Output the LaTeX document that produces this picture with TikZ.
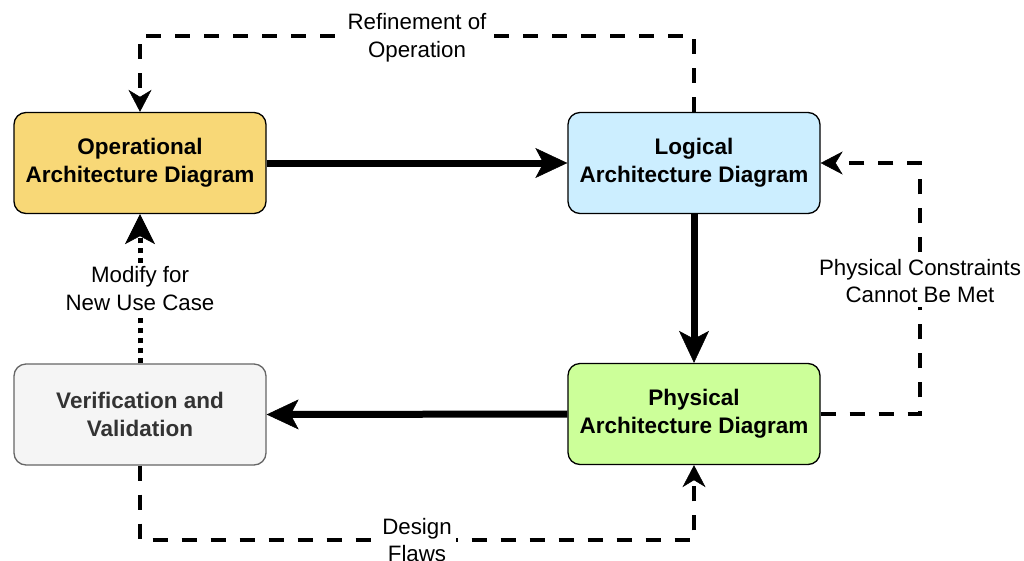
\documentclass[tikz,border=0pt]{standalone}
\usepackage{fontspec}
\setmainfont{Liberation Sans}
\usetikzlibrary{arrows.meta,positioning}

\definecolor{opfill}{HTML}{F8D877}
\definecolor{logfill}{HTML}{CCEEFF}
\definecolor{physfill}{HTML}{CCFF99}
\definecolor{vvfill}{HTML}{F5F5F5}
\definecolor{vvtext}{HTML}{333333}
\definecolor{vvdraw}{HTML}{666666}

\tikzset{
  archbox/.style={draw=black, line width=1.3pt, rounded corners=12pt,
    minimum width=252pt, minimum height=101pt, align=center,
    font=\bfseries\fontsize{22.5}{28}\selectfont},
  flowline/.style={line width=7pt, line join=miter,
    -{Stealth[length=32pt,width=30pt,inset=8pt,line width=0.5pt]}},
  loopline/.style={line width=4.5pt, dash pattern=on 15pt off 14pt,
    -{Stealth[length=22pt,width=23pt,inset=7pt,line width=0.5pt]}},
  dotline/.style={line width=5pt, dash pattern=on 5pt off 5pt,
    -{Stealth[length=30pt,width=30pt,inset=8pt,line width=0.5pt]}},
  looplabel/.style={fill=white, inner sep=4pt, align=center,
    font=\fontsize{22.3}{27.5}\selectfont},
}

\begin{document}
\begin{tikzpicture}[x=1pt, y=-1pt]
  \useasboundingbox[fill=white] (0,0) rectangle (1024,560);

  % architecture boxes
  \node[archbox, fill=opfill]   (op)   at (140,163)   {Operational\\Architecture Diagram};
  \node[archbox, fill=logfill]  (log)  at (694,163)   {Logical\\Architecture Diagram};
  \node[archbox, fill=physfill] (phys) at (694,414)   {Physical\\Architecture Diagram};
  \node[archbox, fill=vvfill, draw=vvdraw, text=vvtext] (vv) at (140,414.5)
        {Verification and\\Validation};

  % levels of the feedback loops
  \coordinate (topY)   at (0,36);
  \coordinate (botY)   at (0,540);
  \coordinate (rightX) at (920,0);

  % main flow
  \draw[flowline] (op.east) -- (log.west);
  \draw[flowline] (log.south) -- (phys.north);
  \draw[flowline] (phys.west) -- (vv.east);

  % feedback loops
  \draw[loopline] (log.north) -- (log.north |- topY)
      -| node[looplabel, pos=0.25, yshift=-1.5pt] {Refinement of\\Operation} (op.north);
  \draw[loopline] (phys.east) -- (rightX |- phys.east)
      |- node[looplabel, pos=0.265] {Physical Constraints\\Cannot Be Met} (log.east);
  \draw[loopline] (vv.south) -- (vv.south |- botY)
      -| node[looplabel, pos=0.25] {Design\\Flaws} (phys.south);
  \draw[dotline] (vv.north) -- node[looplabel] {Modify for\\New Use Case} (op.south);
\end{tikzpicture}
\end{document}
